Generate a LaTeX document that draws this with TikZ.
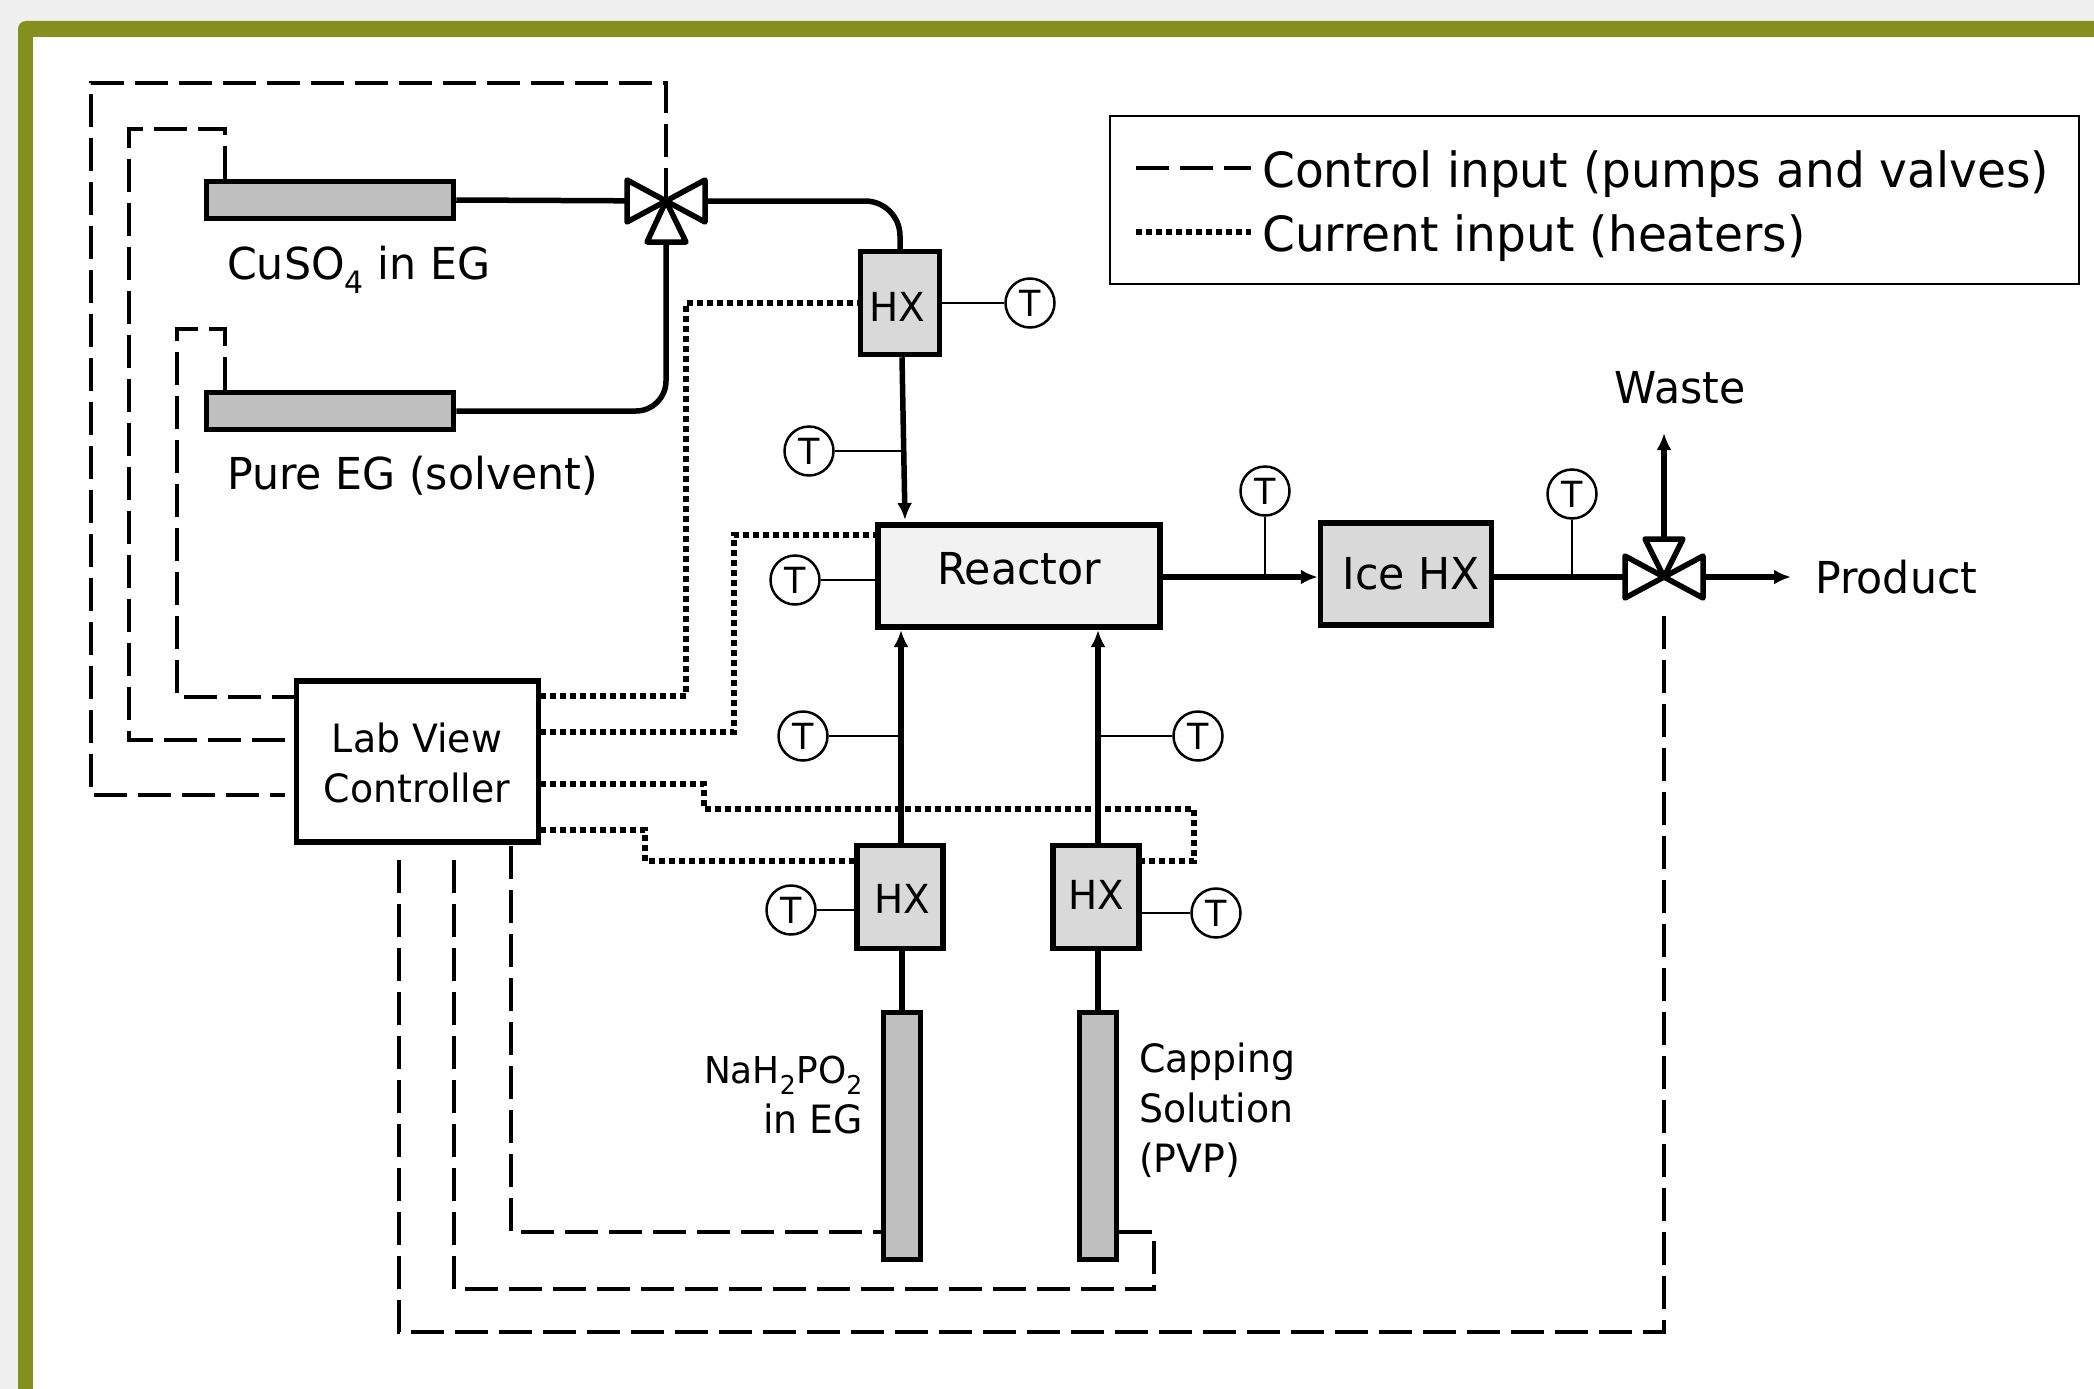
\documentclass[tikz,border=0pt]{standalone}
\usepackage{fontspec}
\setmainfont[FakeStretch=0.97]{DejaVu Sans}
\usetikzlibrary{arrows.meta}
\definecolor{frame green}{HTML}{858F1D}
\definecolor{page grey}{HTML}{F0F0F0}
\definecolor{pump grey}{HTML}{BFBFBF}
\definecolor{hx grey}{HTML}{D9D9D9}
\definecolor{reactor grey}{HTML}{F2F2F2}
\tikzset{>={Latex[length=17pt,width=15pt]}}
\tikzset{
    pump/.style={draw, line width=5.5pt, fill=pump grey, inner sep=0pt},
    hxbox/.style={draw, line width=5.5pt, fill=hx grey, inner sep=0pt},
    tsensor/.style={draw, circle, line width=2.5pt, fill=white, minimum size=49pt, inner sep=0pt, font=\fontsize{36}{46}\selectfont},
    label/.style={inner sep=0pt, font=\fontsize{44}{50}\selectfont},
    hx label/.style={inner sep=0pt, font=\fontsize{40}{46}\selectfont},
    small label/.style={inner sep=0pt, font=\fontsize{39}{50}\selectfont},
    legend label/.style={inner sep=0pt, font=\fontsize{48.5}{50}\selectfont},
    flow/.style={line width=5.5pt, line join=round},
    tap/.style={line width=2.5pt},
    control/.style={line width=3.5pt, dash pattern=on 33pt off 11pt},
    current/.style={line width=5.5pt, dash pattern=on 6pt off 4pt},
    valve/.pic={
        \draw[line width=5.5pt, line join=round, fill=white] (0,0) -- (-39,-21) -- (-39,21) -- cycle;
        \draw[line width=5.5pt, line join=round, fill=white] (0,0) -- (39,-21) -- (39,21) -- cycle;
    },
}

\begin{document}
\begin{tikzpicture}[x=1pt, y=-1pt]
    \path[use as bounding box, fill=page grey] (0, 0) rectangle (2094, 1389);
    \fill[frame green, rounded corners=8pt] (18, 1410) -- (18, 21) -- (2110, 21) -- (2110, 37) -- (33, 37) -- (33, 1410) -- cycle;
    \fill[white] (33, 37) rectangle (2094, 1389);

    % units
    \node[pump, minimum width=247pt, minimum height=37pt] (cuso) at (330, 200) {};
    \node[pump, minimum width=247pt, minimum height=37pt] (pure) at (330, 411) {};
    \node[pump, minimum width=37pt, minimum height=247pt] (naph) at (902, 1136) {};
    \node[pump, minimum width=37pt, minimum height=247pt] (capping) at (1098, 1136) {};
    \node[hxbox, minimum width=79pt, minimum height=103pt] (hxa) at (900, 303) {};
    \node[hxbox, minimum width=86pt, minimum height=103pt] (hxb) at (900, 897) {};
    \node[hxbox, minimum width=86pt, minimum height=103pt] (hxc) at (1096, 897) {};
    \node[hxbox, fill=reactor grey, minimum width=282pt, minimum height=102pt] (reactor) at (1019, 576) {};
    \node[hxbox, minimum width=171pt, minimum height=102pt] (icehx) at (1406, 574) {};
    \node[draw, line width=5.5pt, inner sep=0pt, fill=white, minimum width=242pt, minimum height=161pt] (ctrl) at (417.5, 761.5) {};
    \node[hx label] (hxatext) at (897, 307) {HX};
    \node[hx label] (hxbtext) at (902, 899) {HX};
    \node[hx label] (hxctext) at (1096, 895) {HX};
    \node[label] (reactortext) at (1019, 569) {Reactor};
    \node[label] (icehxtext) at (1411, 574) {Ice HX};
    \node[small label, align=center] (ctrltext) at (417, 763) {Lab View\\Controller};

    \coordinate (va) at (666, 201);
    \coordinate (vb) at (1664, 577);
    \coordinate (waste) at (1664, 433);
    \coordinate (out) at (1791, 577);
    \coordinate (fa) at (905, 520);
    \coordinate (fb) at (901, 630);
    \coordinate (fc) at (1098, 630);

    % process lines
    \draw[flow] (cuso.east) -- (va);
    \draw[flow, rounded corners=35pt] (va) -- (900, 201) -- (hxa.north);
    \draw[flow, rounded corners=30pt] (pure.east) -- (666, 411) -- (va);
    \draw[flow, ->] (hxa.south) ++(2, 0) -- (fa);
    \draw[flow] (naph.north) -- (naph.north |- hxb.south);
    \draw[flow] (capping.north) -- (capping.north |- hxc.south);
    \draw[flow, ->] (hxb.north) ++(1, 0) -- (fb);
    \draw[flow, ->] (hxc.north) ++(2, 0) -- (fc);
    \draw[flow, ->] (reactor.east |- vb) -- (icehx.west |- vb);
    \draw[flow] (icehx.east |- vb) -- (vb);
    \draw[flow, ->] (vb) -- (out);
    \draw[flow, ->] (vb) -- (waste);

    % valves
    \pic at (va) {valve};
    \draw[line width=5.5pt, line join=round, fill=white] (va) -- (647, 242) -- (686, 242) -- cycle;
    \pic at (vb) {valve};
    \draw[line width=5.5pt, line join=round, fill=white] (vb) -- (1645, 539) -- (1683, 539) -- cycle;

    % control input
    \draw[control] (va) |- (91, 83) |- (285, 795);
    \draw[control] (cuso.north -| 225, 179) |- (129, 129) |- (285, 740);
    \draw[control] (pure.north -| 225, 390) |- (177, 329) |- (295, 697);
    \draw[control] (511, 846) |- (naph.west |- 0, 1232);
    \draw[control] (capping.east |- 0, 1232) -| (1154, 1289) -| (454, 860);
    \draw[control] (1664, 616) |- (399, 1332) -- (399, 860);

    % current input
    \draw[current] (540, 696) -| (686, 303) -- (hxa.west |- 0, 303);
    \draw[current] (540, 732) -| (734, 535) -- (reactor.west |- 0, 535);
    \draw[current] (540, 784) -| (704, 809) -| (1194, 861) -- (hxc.east |- 0, 861);
    \draw[current] (540, 830) -| (645, 861) -- (hxb.west |- 0, 861);

    % temperature sensors
    \node[tsensor] (ta) at (1030, 303) {T};
    \node[tsensor] (tb) at (809, 451) {T};
    \node[tsensor] (tc) at (795, 580) {T};
    \node[tsensor] (td) at (1265, 491) {T};
    \node[tsensor] (te) at (1572, 494) {T};
    \node[tsensor] (tf) at (803, 736) {T};
    \node[tsensor] (tg) at (1198, 736) {T};
    \node[tsensor] (th) at (791, 910) {T};
    \node[tsensor] (ti) at (1216, 913) {T};
    \draw[tap] (ta) -- (hxa.east |- ta);
    \draw[tap] (tb) -- (fa |- tb);
    \draw[tap] (tc) -- (reactor.west |- tc);
    \draw[tap] (td) -- (td |- vb);
    \draw[tap] (te) -- (te |- vb);
    \draw[tap] (tf) -- (fb |- tf);
    \draw[tap] (tg) -- (fc |- tg);
    \draw[tap] (th) -- (hxb.west |- th);
    \draw[tap] (ti) -- (hxc.east |- ti);

    % labels
    \node[label, anchor=west] (cusotext) at (227, 270) {CuSO\textsubscript{4} in EG};
    \node[label, anchor=west] (puretext) at (227, 476) {Pure EG (solvent)};
    \node[label] (wastetext) at (1680, 388) {Waste};
    \node[label, anchor=west] (producttext) at (1815, 577) {Product};
    \node[small label, anchor=east, align=right] (naphtext) at (863, 1095) {\fontsize{37}{50}\selectfont NaH\textsubscript{2}PO\textsubscript{2}\\\fontsize{39}{50}\selectfont in EG};
    \node[small label, anchor=west, align=left] (cappingtext) at (1139, 1110) {Capping\\Solution\\(PVP)};

    % legend
    \node[draw, line width=2.5pt, inner sep=0pt, minimum width=969pt, minimum height=168pt] (legend) at (1594.5, 200) {};
    \node[legend label, anchor=west] (legendcontrol) at (1262, 174) {Control input (pumps and valves)};
    \node[legend label, anchor=west] (legendcurrent) at (1262, 238) {Current input (heaters)};
    \draw[control, shorten >=11pt] (1136, 168) -- (legendcontrol.west |- 0, 168);
    \draw[current, shorten >=11pt] (1136, 232) -- (legendcurrent.west |- 0, 232);
\end{tikzpicture}
\end{document}
